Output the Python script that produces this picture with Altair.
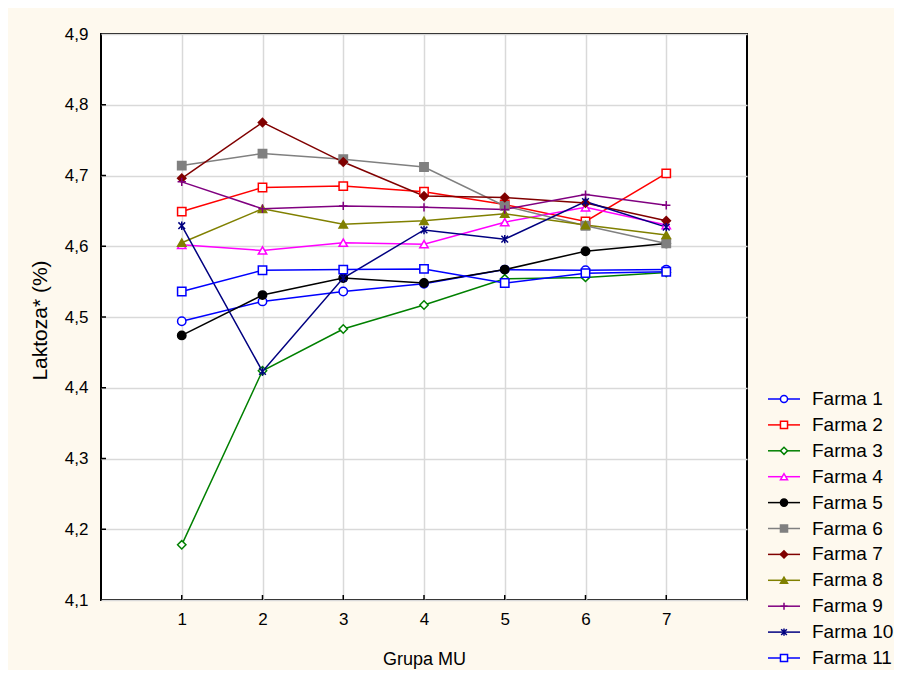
import altair as alt
import pandas as pd

farms = ["Farma 1", "Farma 2", "Farma 3", "Farma 4", "Farma 5", "Farma 6",
         "Farma 7", "Farma 8", "Farma 9", "Farma 10", "Farma 11"]
groups = [1, 2, 3, 4, 5, 6, 7]

f1 = [4.494, 4.522, 4.536, 4.547, 4.567, 4.566, 4.567]
f2 = [4.649, 4.683, 4.685, 4.677, 4.659, 4.635, 4.703]
f3 = [4.178, 4.424, 4.483, 4.517, 4.554, 4.556, 4.563]
f4 = [4.602, 4.594, 4.605, 4.603, 4.634, 4.655, 4.630]
f5 = [4.474, 4.531, 4.555, 4.548, 4.567, 4.593, 4.604]
f6 = [4.714, 4.731, 4.723, 4.712, 4.657, 4.629, 4.604]
f7 = [4.696, 4.775, 4.719, 4.671, 4.669, 4.661, 4.636]
f8 = [4.605, 4.653, 4.631, 4.636, 4.646, 4.630, 4.616]
f9 = [4.691, 4.653, 4.657, 4.655, 4.652, 4.673, 4.658]
f10 = [4.629, 4.423, 4.555, 4.623, 4.610, 4.663, 4.627]
f11 = [4.536, 4.566, 4.567, 4.568, 4.548, 4.562, 4.564]
series = [f1, f2, f3, f4, f5, f6, f7, f8, f9, f10, f11]
y_ticks = [4.1, 4.2, 4.3, 4.4, 4.5, 4.6, 4.7, 4.8, 4.9]

colors = ["#0000FF", "#FF0000", "#008000", "#FF00FF", "#000000", "#808080",
          "#800000", "#808000", "#800080", "#000080", "#0000FF"]
fills = ["#FFFFFF", "#FFFFFF", "#FFFFFF", "#FFFFFF", "#000000", "#808080",
         "#800000", "#808000", "#FFFFFF", "#FFFFFF", "#FFFFFF"]
plus_path = "M-1,0L1,0M0,-1L0,1"
star_path = "M0,-1L0,1M-0.8,-0.8L0.8,0.8M-0.8,0.8L0.8,-0.8"
shapes = ["circle", "square", "diamond", "triangle-up", "circle", "square",
          "diamond", "triangle-up", plus_path, star_path, "square"]

rows = []
for name, vals in zip(farms, series):
    for g, v in zip(groups, vals):
        rows.append({"Farma": name, "MU": g, "val": v})
df = pd.DataFrame(rows)
leg = pd.DataFrame({"Farma": farms})
xt = pd.DataFrame({"MU": groups})
yt = pd.DataFrame({"val": y_ticks[1:-1]})

FONT = "Liberation Sans"
W, H = 646, 566

color_scale = alt.Scale(domain=farms, range=colors)
fill_scale = alt.Scale(domain=farms, range=fills)
shape_scale = alt.Scale(domain=farms, range=shapes)

x_axis = alt.Axis(values=groups, format="d", title="Grupa MU", grid=True,
                  gridColor="#D9D9D9", gridWidth=1.5, ticks=False,
                  domain=False, labelFontSize=17, labelFont=FONT,
                  labelColor="#000000", labelPadding=11,
                  titleFontSize=18, titleFont=FONT,
                  titleFontWeight="normal", titleColor="#000000",
                  titleY=59, titleBaseline="middle")
y_axis = alt.Axis(values=y_ticks,
                  labelExpr="replace(format(datum.value, '.1f'), '.', ',')",
                  title="Laktoza* (%)", grid=True, gridColor="#D9D9D9",
                  gridWidth=1.5, ticks=False, domain=False,
                  labelFontSize=17, labelFont=FONT, labelColor="#000000",
                  labelPadding=13, titleFontSize=21, titleFont=FONT,
                  titleFontWeight="normal", titleColor="#000000",
                  titleX=-61, titleY=286, titleAngle=-90,
                  titleBaseline="middle", titleAlign="center")
x_scale = alt.Scale(domain=[0, 8], nice=False)
y_scale = alt.Scale(domain=[4.1, 4.9], nice=False, zero=False)

lines = alt.Chart(df).mark_line(strokeWidth=1.5).encode(
    x=alt.X("MU:Q", scale=x_scale, axis=x_axis),
    y=alt.Y("val:Q", scale=y_scale, axis=y_axis),
    color=alt.Color("Farma:N", scale=color_scale, legend=None),
    order=alt.Order("MU:Q"),
)
points = alt.Chart(df).mark_point(size=70, strokeWidth=1.5, opacity=1).encode(
    x=alt.X("MU:Q", scale=x_scale, axis=x_axis),
    y=alt.Y("val:Q", scale=y_scale, axis=y_axis),
    stroke=alt.Stroke("Farma:N", scale=color_scale, legend=None),
    fill=alt.Fill("Farma:N", scale=fill_scale, legend=None),
    shape=alt.Shape("Farma:N", scale=shape_scale, legend=None),
)
x_ticks_in = alt.Chart(xt).mark_rule(color="#000000", strokeWidth=1.5).encode(
    x=alt.X("MU:Q", scale=x_scale, axis=x_axis),
    y=alt.value(H - 5), y2=alt.value(H),
)
y_ticks_in = alt.Chart(yt).mark_rule(color="#000000", strokeWidth=1.5).encode(
    y=alt.Y("val:Q", scale=y_scale, axis=y_axis),
    x=alt.value(0), x2=alt.value(5),
)
main = alt.layer(x_ticks_in, y_ticks_in, lines, points)

leg_y = alt.Y("Farma:N", scale=alt.Scale(type="point", domain=farms,
                                          range=[365, 624], padding=0), axis=None)
leg_lines = alt.Chart(leg).mark_rule(strokeWidth=1.5).encode(
    x=alt.value(667), x2=alt.value(699), y=leg_y,
    color=alt.Color("Farma:N", scale=color_scale, legend=None),
)
leg_pts = alt.Chart(leg).mark_point(size=50, strokeWidth=1.5, opacity=1).encode(
    x=alt.value(683), y=leg_y,
    stroke=alt.Stroke("Farma:N", scale=color_scale, legend=None),
    fill=alt.Fill("Farma:N", scale=fill_scale, legend=None),
    shape=alt.Shape("Farma:N", scale=shape_scale, legend=None),
)
leg_txt = alt.Chart(leg).mark_text(align="left", baseline="middle", fontSize=19,
                                   font=FONT, color="#000000").encode(
    x=alt.value(711), y=leg_y, text="Farma:N",
)
legend = alt.layer(leg_lines, leg_pts, leg_txt)

chart = alt.layer(main, legend).resolve_scale(y="independent").properties(
    width=W, height=H,
    background="#FEF9EE",
    padding={"left": 93, "top": 26, "right": 147, "bottom": 70},
    autosize=alt.AutoSizeParams(type="none"),
).configure_view(fill="#FFFFFF", stroke="#000000", strokeWidth=2)

chart.save("out.html", embed_options={"renderer": "svg", "actions": False})
